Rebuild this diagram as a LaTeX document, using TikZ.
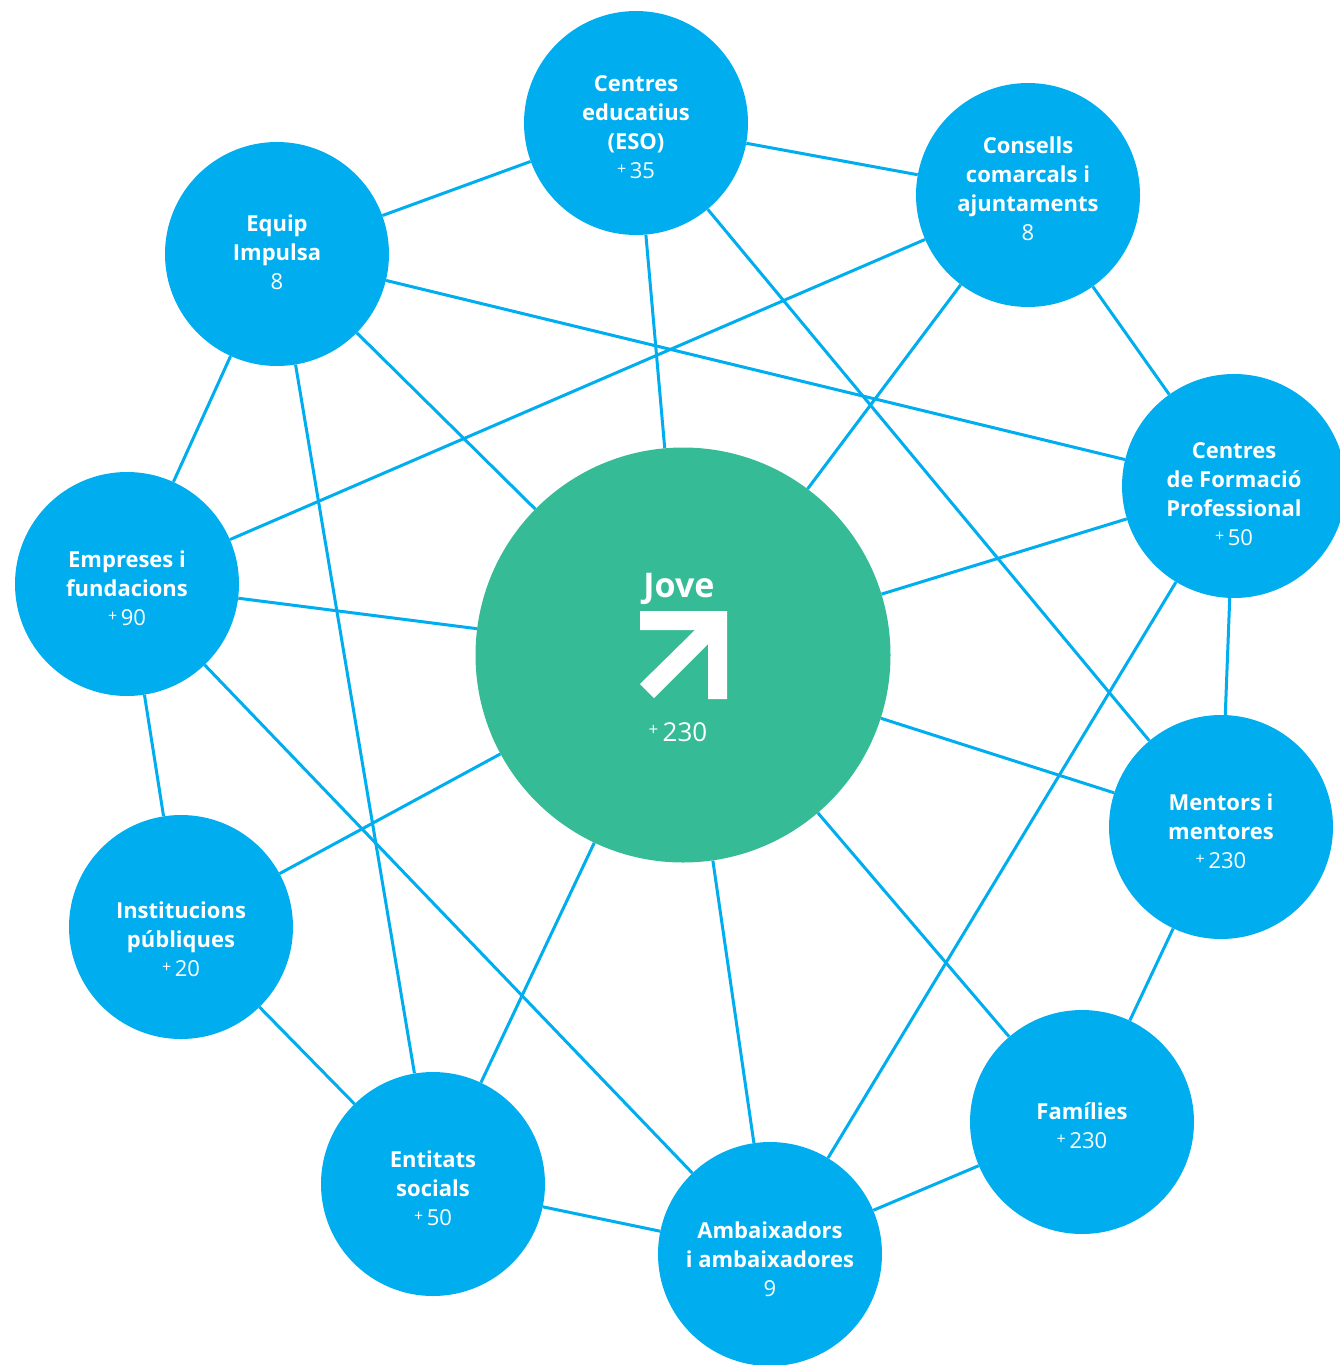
\documentclass[tikz,border=0pt]{standalone}
\usepackage{fontspec}
\setmainfont{Open Sans}
\definecolor{impulsablue}{HTML}{00AEEF}
\definecolor{impulsagreen}{HTML}{35BC96}
\tikzset{
  hub/.style={circle,fill=impulsablue,minimum size=224pt,inner sep=0pt},
  hubtext/.style={text=white,align=center,inner sep=0pt,font=\bfseries\fontsize{22}{29}\selectfont},
  jove/.style={circle,fill=impulsagreen,minimum size=415pt,inner sep=0pt},
  jovetext/.style={text=white,anchor=base,inner sep=0pt},
  link/.style={draw=impulsablue,line width=3pt},
}
\newcommand{\plusnum}[1]{{\mdseries\raisebox{4pt}{\fontsize{16}{16}\selectfont+}\,#1}}

\begin{document}
\begin{tikzpicture}[x=1pt,y=-1pt]
  \useasboundingbox (0,0) rectangle (1339,1365);

  \path (683,655) node[jove] (jove) {};
  \path (679,597) node[jovetext,font=\bfseries\fontsize{34}{38}\selectfont] (jovename) {Jove};
  \path (678,741) node[jovetext,font=\fontsize{26}{28}\selectfont] (jovenum) {\raisebox{6pt}{\fontsize{17}{17}\selectfont+}\,230};
  \path[fill=white] (640,611) -- (727,611) -- (727,699) -- (708,699) -- (708,644)
    -- (654,698) -- (640,684) -- (695,630) -- (640,630) -- cycle;

  \path (636,123) node[hub] (eso) {} +(0,4) node[hubtext] (esolabel) {Centres\\educatius\\(ESO)\\\plusnum{35}};
  \path (1028,195) node[hub] (consells) {} +(0,-6) node[hubtext] (consellslabel) {Consells\\comarcals i\\ajuntaments\\{\mdseries 8}};
  \path (277,254) node[hub] (equip) {} +(0,-2) node[hubtext] (equiplabel) {Equip\\Impulsa\\{\mdseries 8}};
  \path (1234,486) node[hub] (fp) {} +(0,8) node[hubtext] (fplabel) {Centres\\de Formació\\Professional\\\plusnum{50}};
  \path (127,584) node[hub] (empreses) {} +(0,4) node[hubtext] (empreseslabel) {Empreses i\\fundacions\\\plusnum{90}};
  \path (1221,827) node[hub] (mentors) {} +(0,4) node[hubtext] (mentorslabel) {Mentors i\\mentores\\\plusnum{230}};
  \path (181,927) node[hub] (institucions) {} +(0,12) node[hubtext] (institucionslabel) {Institucions\\públiques\\\plusnum{20}};
  \path (1082,1122) node[hub] (families) {} +(0,4) node[hubtext] (familieslabel) {Famílies\\\plusnum{230}};
  \path (433,1184) node[hub] (entitats) {} +(0,4) node[hubtext] (entitatslabel) {Entitats\\socials\\\plusnum{50}};
  \path (770,1254) node[hub] (ambaixadors) {} +(0,5) node[hubtext] (ambaixadorslabel) {Ambaixadors\\i ambaixadores\\{\mdseries 9}};

  \path[link] (equip) -- (eso);
  \path[link] (eso) -- (consells);
  \path[link] (equip) -- (fp);
  \path[link] (consells) -- (empreses);
  \path[link] (eso) -- (jove);
  \path[link] (eso) -- (mentors);
  \path[link] (consells) -- (jove);
  \path[link] (consells) -- (fp);
  \path[link] (equip) -- (jove);
  \path[link] (equip) -- (empreses);
  \path[link] (equip) -- (entitats);
  \path[link] (empreses) -- (jove);
  \path[link] (empreses) -- (institucions);
  \path[link] (empreses) -- (ambaixadors);
  \path[link] (fp) -- (jove);
  \path[link] (fp) -- (mentors);
  \path[link] (fp) -- (ambaixadors);
  \path[link] (jove) -- (mentors);
  \path[link] (jove) -- (institucions);
  \path[link] (jove) -- (entitats);
  \path[link] (jove) -- (ambaixadors);
  \path[link] (jove) -- (families);
  \path[link] (mentors) -- (families);
  \path[link] (institucions) -- (entitats);
  \path[link] (entitats) -- (ambaixadors);
  \path[link] (ambaixadors) -- (families);
\end{tikzpicture}
\end{document}
